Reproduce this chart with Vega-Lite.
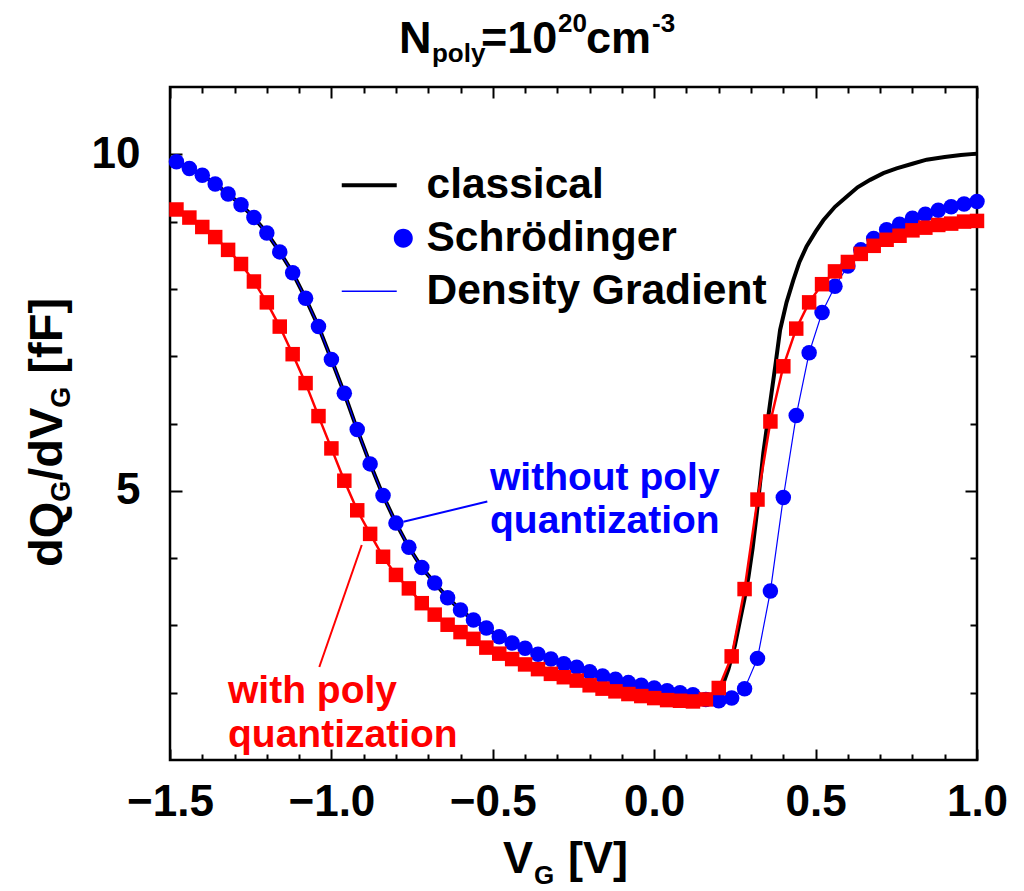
{
  "$schema": "https://vega.github.io/schema/vega-lite/v6.json",
  "width": 807,
  "height": 673,
  "autosize": "none",
  "padding": {"left": 170, "top": 87, "right": 47, "bottom": 131},
  "background": "white",
  "config": {
    "view": {"stroke": "black", "strokeWidth": 2.5},
    "axis": {"domain": false, "grid": false, "tickColor": "black", "tickWidth": 2, "labelFont": "Liberation Sans", "labelFontWeight": "bold", "labelFontSize": 44, "labelColor": "black", "labelFlush": false, "labelOverlap": false},
    "text": {"font": "Liberation Sans", "fontWeight": "bold"}
  },
  "datasets": {
    "curves": [
      {"series": "classical", "x": -1.5, "y": 9.92},
      {"series": "classical", "x": -1.48, "y": 9.89},
      {"series": "classical", "x": -1.44, "y": 9.79},
      {"series": "classical", "x": -1.40, "y": 9.69},
      {"series": "classical", "x": -1.36, "y": 9.56},
      {"series": "classical", "x": -1.32, "y": 9.41},
      {"series": "classical", "x": -1.28, "y": 9.25},
      {"series": "classical", "x": -1.24, "y": 9.06},
      {"series": "classical", "x": -1.20, "y": 8.83},
      {"series": "classical", "x": -1.16, "y": 8.55},
      {"series": "classical", "x": -1.12, "y": 8.24},
      {"series": "classical", "x": -1.08, "y": 7.86},
      {"series": "classical", "x": -1.04, "y": 7.44},
      {"series": "classical", "x": -1.00, "y": 6.95},
      {"series": "classical", "x": -0.96, "y": 6.45},
      {"series": "classical", "x": -0.92, "y": 5.91},
      {"series": "classical", "x": -0.88, "y": 5.40},
      {"series": "classical", "x": -0.84, "y": 4.93},
      {"series": "classical", "x": -0.80, "y": 4.52},
      {"series": "classical", "x": -0.76, "y": 4.16},
      {"series": "classical", "x": -0.72, "y": 3.86},
      {"series": "classical", "x": -0.68, "y": 3.63},
      {"series": "classical", "x": -0.64, "y": 3.41},
      {"series": "classical", "x": -0.60, "y": 3.23},
      {"series": "classical", "x": -0.56, "y": 3.08},
      {"series": "classical", "x": -0.52, "y": 2.96},
      {"series": "classical", "x": -0.48, "y": 2.83},
      {"series": "classical", "x": -0.44, "y": 2.74},
      {"series": "classical", "x": -0.40, "y": 2.66},
      {"series": "classical", "x": -0.36, "y": 2.57},
      {"series": "classical", "x": -0.32, "y": 2.50},
      {"series": "classical", "x": -0.28, "y": 2.43},
      {"series": "classical", "x": -0.24, "y": 2.38},
      {"series": "classical", "x": -0.20, "y": 2.31},
      {"series": "classical", "x": -0.16, "y": 2.25},
      {"series": "classical", "x": -0.12, "y": 2.20},
      {"series": "classical", "x": -0.08, "y": 2.15},
      {"series": "classical", "x": -0.04, "y": 2.11},
      {"series": "classical", "x": 0.00, "y": 2.07},
      {"series": "classical", "x": 0.04, "y": 2.03},
      {"series": "classical", "x": 0.08, "y": 2.00},
      {"series": "classical", "x": 0.12, "y": 1.97},
      {"series": "classical", "x": 0.16, "y": 1.91},
      {"series": "classical", "x": 0.20, "y": 1.98},
      {"series": "classical", "x": 0.215, "y": 2.15},
      {"series": "classical", "x": 0.23, "y": 2.35},
      {"series": "classical", "x": 0.25, "y": 2.70},
      {"series": "classical", "x": 0.266, "y": 3.08},
      {"series": "classical", "x": 0.28, "y": 3.40},
      {"series": "classical", "x": 0.292, "y": 3.72},
      {"series": "classical", "x": 0.305, "y": 4.15},
      {"series": "classical", "x": 0.318, "y": 4.67},
      {"series": "classical", "x": 0.338, "y": 5.56},
      {"series": "classical", "x": 0.359, "y": 6.30},
      {"series": "classical", "x": 0.375, "y": 6.85},
      {"series": "classical", "x": 0.39, "y": 7.39},
      {"series": "classical", "x": 0.41, "y": 7.80},
      {"series": "classical", "x": 0.431, "y": 8.13},
      {"series": "classical", "x": 0.45, "y": 8.40},
      {"series": "classical", "x": 0.472, "y": 8.63},
      {"series": "classical", "x": 0.50, "y": 8.85},
      {"series": "classical", "x": 0.524, "y": 9.02},
      {"series": "classical", "x": 0.56, "y": 9.22},
      {"series": "classical", "x": 0.596, "y": 9.37},
      {"series": "classical", "x": 0.63, "y": 9.51},
      {"series": "classical", "x": 0.669, "y": 9.62},
      {"series": "classical", "x": 0.71, "y": 9.72},
      {"series": "classical", "x": 0.751, "y": 9.79},
      {"series": "classical", "x": 0.80, "y": 9.86},
      {"series": "classical", "x": 0.844, "y": 9.92},
      {"series": "classical", "x": 0.90, "y": 9.96},
      {"series": "classical", "x": 0.95, "y": 9.99},
      {"series": "classical", "x": 1.00, "y": 10.01},

      {"series": "Schrödinger", "x": -1.48, "y": 9.89},
      {"series": "Schrödinger", "x": -1.44, "y": 9.79},
      {"series": "Schrödinger", "x": -1.40, "y": 9.69},
      {"series": "Schrödinger", "x": -1.36, "y": 9.56},
      {"series": "Schrödinger", "x": -1.32, "y": 9.41},
      {"series": "Schrödinger", "x": -1.28, "y": 9.25},
      {"series": "Schrödinger", "x": -1.24, "y": 9.06},
      {"series": "Schrödinger", "x": -1.20, "y": 8.83},
      {"series": "Schrödinger", "x": -1.16, "y": 8.55},
      {"series": "Schrödinger", "x": -1.12, "y": 8.24},
      {"series": "Schrödinger", "x": -1.08, "y": 7.86},
      {"series": "Schrödinger", "x": -1.04, "y": 7.44},
      {"series": "Schrödinger", "x": -1.00, "y": 6.95},
      {"series": "Schrödinger", "x": -0.96, "y": 6.45},
      {"series": "Schrödinger", "x": -0.92, "y": 5.91},
      {"series": "Schrödinger", "x": -0.88, "y": 5.40},
      {"series": "Schrödinger", "x": -0.84, "y": 4.93},
      {"series": "Schrödinger", "x": -0.80, "y": 4.52},
      {"series": "Schrödinger", "x": -0.76, "y": 4.16},
      {"series": "Schrödinger", "x": -0.72, "y": 3.86},
      {"series": "Schrödinger", "x": -0.68, "y": 3.63},
      {"series": "Schrödinger", "x": -0.64, "y": 3.41},
      {"series": "Schrödinger", "x": -0.60, "y": 3.23},
      {"series": "Schrödinger", "x": -0.56, "y": 3.08},
      {"series": "Schrödinger", "x": -0.52, "y": 2.96},
      {"series": "Schrödinger", "x": -0.48, "y": 2.83},
      {"series": "Schrödinger", "x": -0.44, "y": 2.74},
      {"series": "Schrödinger", "x": -0.40, "y": 2.66},
      {"series": "Schrödinger", "x": -0.36, "y": 2.57},
      {"series": "Schrödinger", "x": -0.32, "y": 2.50},
      {"series": "Schrödinger", "x": -0.28, "y": 2.43},
      {"series": "Schrödinger", "x": -0.24, "y": 2.38},
      {"series": "Schrödinger", "x": -0.20, "y": 2.31},
      {"series": "Schrödinger", "x": -0.16, "y": 2.25},
      {"series": "Schrödinger", "x": -0.12, "y": 2.20},
      {"series": "Schrödinger", "x": -0.08, "y": 2.15},
      {"series": "Schrödinger", "x": -0.04, "y": 2.11},
      {"series": "Schrödinger", "x": 0.00, "y": 2.07},
      {"series": "Schrödinger", "x": 0.04, "y": 2.03},
      {"series": "Schrödinger", "x": 0.08, "y": 2.00},
      {"series": "Schrödinger", "x": 0.12, "y": 1.97},
      {"series": "Schrödinger", "x": 0.16, "y": 1.90},
      {"series": "Schrödinger", "x": 0.20, "y": 1.88},
      {"series": "Schrödinger", "x": 0.24, "y": 1.92},
      {"series": "Schrödinger", "x": 0.28, "y": 2.06},
      {"series": "Schrödinger", "x": 0.32, "y": 2.51},
      {"series": "Schrödinger", "x": 0.36, "y": 3.51},
      {"series": "Schrödinger", "x": 0.40, "y": 4.90},
      {"series": "Schrödinger", "x": 0.44, "y": 6.12},
      {"series": "Schrödinger", "x": 0.48, "y": 7.05},
      {"series": "Schrödinger", "x": 0.52, "y": 7.65},
      {"series": "Schrödinger", "x": 0.56, "y": 8.04},
      {"series": "Schrödinger", "x": 0.60, "y": 8.34},
      {"series": "Schrödinger", "x": 0.64, "y": 8.58},
      {"series": "Schrödinger", "x": 0.68, "y": 8.75},
      {"series": "Schrödinger", "x": 0.72, "y": 8.88},
      {"series": "Schrödinger", "x": 0.76, "y": 8.96},
      {"series": "Schrödinger", "x": 0.80, "y": 9.05},
      {"series": "Schrödinger", "x": 0.84, "y": 9.11},
      {"series": "Schrödinger", "x": 0.88, "y": 9.17},
      {"series": "Schrödinger", "x": 0.92, "y": 9.22},
      {"series": "Schrödinger", "x": 0.96, "y": 9.26},
      {"series": "Schrödinger", "x": 1.00, "y": 9.30},

      {"series": "Schrödinger poly", "x": -1.48, "y": 9.18},
      {"series": "Schrödinger poly", "x": -1.44, "y": 9.06},
      {"series": "Schrödinger poly", "x": -1.40, "y": 8.92},
      {"series": "Schrödinger poly", "x": -1.36, "y": 8.77},
      {"series": "Schrödinger poly", "x": -1.32, "y": 8.58},
      {"series": "Schrödinger poly", "x": -1.28, "y": 8.37},
      {"series": "Schrödinger poly", "x": -1.24, "y": 8.11},
      {"series": "Schrödinger poly", "x": -1.20, "y": 7.80},
      {"series": "Schrödinger poly", "x": -1.16, "y": 7.44},
      {"series": "Schrödinger poly", "x": -1.12, "y": 7.03},
      {"series": "Schrödinger poly", "x": -1.08, "y": 6.60},
      {"series": "Schrödinger poly", "x": -1.04, "y": 6.11},
      {"series": "Schrödinger poly", "x": -1.00, "y": 5.63},
      {"series": "Schrödinger poly", "x": -0.96, "y": 5.15},
      {"series": "Schrödinger poly", "x": -0.92, "y": 4.71},
      {"series": "Schrödinger poly", "x": -0.88, "y": 4.36},
      {"series": "Schrödinger poly", "x": -0.84, "y": 4.02},
      {"series": "Schrödinger poly", "x": -0.80, "y": 3.75},
      {"series": "Schrödinger poly", "x": -0.76, "y": 3.55},
      {"series": "Schrödinger poly", "x": -0.72, "y": 3.33},
      {"series": "Schrödinger poly", "x": -0.68, "y": 3.16},
      {"series": "Schrödinger poly", "x": -0.64, "y": 3.01},
      {"series": "Schrödinger poly", "x": -0.60, "y": 2.90},
      {"series": "Schrödinger poly", "x": -0.56, "y": 2.80},
      {"series": "Schrödinger poly", "x": -0.52, "y": 2.67},
      {"series": "Schrödinger poly", "x": -0.48, "y": 2.58},
      {"series": "Schrödinger poly", "x": -0.44, "y": 2.50},
      {"series": "Schrödinger poly", "x": -0.40, "y": 2.42},
      {"series": "Schrödinger poly", "x": -0.36, "y": 2.35},
      {"series": "Schrödinger poly", "x": -0.32, "y": 2.28},
      {"series": "Schrödinger poly", "x": -0.28, "y": 2.23},
      {"series": "Schrödinger poly", "x": -0.24, "y": 2.18},
      {"series": "Schrödinger poly", "x": -0.20, "y": 2.11},
      {"series": "Schrödinger poly", "x": -0.16, "y": 2.06},
      {"series": "Schrödinger poly", "x": -0.12, "y": 2.02},
      {"series": "Schrödinger poly", "x": -0.08, "y": 1.98},
      {"series": "Schrödinger poly", "x": -0.04, "y": 1.95},
      {"series": "Schrödinger poly", "x": 0.00, "y": 1.92},
      {"series": "Schrödinger poly", "x": 0.04, "y": 1.89},
      {"series": "Schrödinger poly", "x": 0.08, "y": 1.88},
      {"series": "Schrödinger poly", "x": 0.12, "y": 1.87},
      {"series": "Schrödinger poly", "x": 0.16, "y": 1.90},
      {"series": "Schrödinger poly", "x": 0.20, "y": 2.07},
      {"series": "Schrödinger poly", "x": 0.24, "y": 2.54},
      {"series": "Schrödinger poly", "x": 0.28, "y": 3.54},
      {"series": "Schrödinger poly", "x": 0.32, "y": 4.87},
      {"series": "Schrödinger poly", "x": 0.36, "y": 6.03},
      {"series": "Schrödinger poly", "x": 0.40, "y": 6.85},
      {"series": "Schrödinger poly", "x": 0.44, "y": 7.41},
      {"series": "Schrödinger poly", "x": 0.48, "y": 7.80},
      {"series": "Schrödinger poly", "x": 0.52, "y": 8.07},
      {"series": "Schrödinger poly", "x": 0.56, "y": 8.26},
      {"series": "Schrödinger poly", "x": 0.60, "y": 8.40},
      {"series": "Schrödinger poly", "x": 0.64, "y": 8.52},
      {"series": "Schrödinger poly", "x": 0.68, "y": 8.64},
      {"series": "Schrödinger poly", "x": 0.72, "y": 8.73},
      {"series": "Schrödinger poly", "x": 0.76, "y": 8.79},
      {"series": "Schrödinger poly", "x": 0.80, "y": 8.87},
      {"series": "Schrödinger poly", "x": 0.84, "y": 8.91},
      {"series": "Schrödinger poly", "x": 0.88, "y": 8.95},
      {"series": "Schrödinger poly", "x": 0.92, "y": 8.97},
      {"series": "Schrödinger poly", "x": 0.96, "y": 9.00},
      {"series": "Schrödinger poly", "x": 1.00, "y": 9.01}
    ],
    "leaders": [
      {"who": "without", "x": -0.777, "y": 4.54, "x2": -0.517, "y2": 4.84},
      {"who": "with", "x": -0.906, "y": 4.195, "x2": -1.0375, "y2": 2.382}
    ],
    "notes": [
      {"who": "without", "x": -0.5087, "y": 5.012, "t": "without poly"},
      {"who": "without", "x": -0.5087, "y": 4.373, "t": "quantization"},
      {"who": "with", "x": -1.3203, "y": 1.842, "t": "with poly"},
      {"who": "with", "x": -1.3203, "y": 1.198, "t": "quantization"}
    ],
    "bigText": [
      {"x": -0.7906, "y": 11.505, "t": "N"},
      {"x": -0.5366, "y": 11.505, "t": "=10"},
      {"x": -0.2113, "y": 11.505, "t": "cm"},
      {"x": -0.4684, "y": -0.679, "t": "V"},
      {"x": -0.267, "y": -0.679, "t": "[V]"}
    ],
    "smallText": [
      {"x": -0.6884, "y": 11.371, "t": "poly"},
      {"x": -0.2980, "y": 11.817, "t": "20"},
      {"x": -0.0068, "y": 11.817, "t": "-3"},
      {"x": -0.3724, "y": -0.843, "t": "G"}
    ],
    "yBig": [
      {"x": -1.8346, "y": 3.868, "t": "dQ"},
      {"x": -1.8346, "y": 5.150, "t": "/dV"},
      {"x": -1.8346, "y": 6.741, "t": "[fF]"}
    ],
    "ySmall": [
      {"x": -1.8098, "y": 4.838, "t": "G"},
      {"x": -1.8098, "y": 6.235, "t": "G"}
    ]
  },
  "resolve": {"axis": {"x": "independent", "y": "independent"}},
  "layer": [
    {
      "data": {"name": "curves"},
      "transform": [{"filter": "datum.series === 'classical'"}],
      "mark": {"type": "line", "strokeWidth": 4},
      "encoding": {
        "x": {"field": "x", "type": "quantitative", "scale": {"domain": [-1.5, 1.0], "nice": false, "zero": false},
              "axis": {"orient": "bottom", "values": [-1.5, -1, -0.5, 0, 0.5, 1], "format": ".1f", "tickSize": -11, "labelPadding": 31, "title": null}},
        "y": {"field": "y", "type": "quantitative", "scale": {"domain": [1, 11], "nice": false, "zero": false},
              "axis": {"orient": "left", "values": [5, 10], "format": "d", "tickSize": -12, "labelPadding": 42, "title": null}},
        "color": {"field": "series", "type": "nominal",
                  "scale": {"domain": ["classical", "Schrödinger", "Density Gradient"], "range": ["#000000", "#0000ff", "#0000ff"]},
                  "legend": {
                    "orient": "none", "legendX": 178, "legendY": 77, "title": null,
                    "values": ["classical", "Schrödinger", "Density Gradient"],
                    "padding": 0, "rowPadding": 10, "labelOffset": 36,
                    "symbolSize": 2209, "symbolStrokeWidth": 1, "symbolType": "stroke",
                    "labelFont": "Liberation Sans", "labelFontWeight": "bold", "labelFontSize": 42.5, "labelColor": "black", "labelLimit": 0,
                    "encode": {"symbols": {"update": {
                      "shape": {"signal": "datum.value === 'Schrödinger' ? 'M1.045,0A0.404,0.404 0 1,0 1.853,0A0.404,0.404 0 1,0 1.045,0Z' : 'M-1.17,0L1.17,0'"},
                      "strokeWidth": {"signal": "datum.value === 'classical' ? 4 : (datum.value === 'Schrödinger' ? 0 : 1.5)"},
                      "fill": {"signal": "datum.value === 'Schrödinger' ? '#0000ff' : 'transparent'"},
                      "stroke": {"signal": "datum.value === 'classical' ? '#000000' : '#0000ff'"},
                      "opacity": {"value": 1}
                    }}}
                  }}
      }
    },
    {
      "data": {"name": "curves"},
      "transform": [{"filter": "datum.series === 'Schrödinger'"}],
      "mark": {"type": "line", "strokeWidth": 1.2, "color": "#0000ff"},
      "encoding": {
        "x": {"field": "x", "type": "quantitative", "scale": {"domain": [-1.5, 1.0], "nice": false, "zero": false}, "axis": null},
        "y": {"field": "y", "type": "quantitative", "scale": {"domain": [1, 11], "nice": false, "zero": false}, "axis": null}
      }
    },
    {
      "data": {"name": "curves"},
      "transform": [{"filter": "datum.series === 'Schrödinger poly'"}],
      "mark": {"type": "line", "strokeWidth": 2.5, "color": "#ff0000"},
      "encoding": {
        "x": {"field": "x", "type": "quantitative", "scale": {"domain": [-1.5, 1.0], "nice": false, "zero": false}, "axis": null},
        "y": {"field": "y", "type": "quantitative", "scale": {"domain": [1, 11], "nice": false, "zero": false}, "axis": null}
      }
    },
    {
      "data": {"name": "curves"},
      "transform": [{"filter": "datum.series === 'Schrödinger'"}],
      "mark": {"type": "point", "filled": true, "shape": "circle", "size": 240, "color": "#0000ff", "opacity": 1},
      "encoding": {
        "x": {"field": "x", "type": "quantitative", "scale": {"domain": [-1.5, 1.0], "nice": false, "zero": false},
              "axis": {"orient": "top", "values": [-1.5, -1, -0.5, 0, 0.5, 1], "tickSize": -11, "labels": false, "title": null}},
        "y": {"field": "y", "type": "quantitative", "scale": {"domain": [1, 11], "nice": false, "zero": false},
              "axis": {"orient": "right", "values": [5, 10], "tickSize": -12, "labels": false, "title": null}}
      }
    },
    {
      "data": {"name": "curves"},
      "transform": [{"filter": "datum.series === 'Schrödinger poly'"}],
      "mark": {"type": "point", "filled": true, "shape": "square", "size": 210, "color": "#ff0000", "opacity": 1},
      "encoding": {
        "x": {"field": "x", "type": "quantitative", "scale": {"domain": [-1.5, 1.0], "nice": false, "zero": false}, "axis": null},
        "y": {"field": "y", "type": "quantitative", "scale": {"domain": [1, 11], "nice": false, "zero": false}, "axis": null}
      }
    },
    {
      "data": {"name": "leaders"},
      "transform": [{"filter": "datum.who === 'without'"}],
      "mark": {"type": "rule", "strokeWidth": 2, "color": "#0000ff"},
      "encoding": {
        "x": {"field": "x", "type": "quantitative", "scale": {"domain": [-1.5, 1.0], "nice": false, "zero": false},
              "axis": {"orient": "bottom", "values": [-1.4, -1.3, -1.2, -1.1, -0.9, -0.8, -0.7, -0.6, -0.4, -0.3, -0.2, -0.1, 0.1, 0.2, 0.3, 0.4, 0.6, 0.7, 0.8, 0.9], "tickSize": -6, "labels": false, "title": null}},
        "y": {"field": "y", "type": "quantitative", "scale": {"domain": [1, 11], "nice": false, "zero": false},
              "axis": {"orient": "left", "values": [2, 3, 4, 6, 7, 8, 9], "tickSize": -7, "labels": false, "title": null}},
        "x2": {"field": "x2"},
        "y2": {"field": "y2"}
      }
    },
    {
      "data": {"name": "leaders"},
      "transform": [{"filter": "datum.who === 'with'"}],
      "mark": {"type": "rule", "strokeWidth": 2, "color": "#ff0000"},
      "encoding": {
        "x": {"field": "x", "type": "quantitative", "scale": {"domain": [-1.5, 1.0], "nice": false, "zero": false},
              "axis": {"orient": "top", "values": [-1.4, -1.3, -1.2, -1.1, -0.9, -0.8, -0.7, -0.6, -0.4, -0.3, -0.2, -0.1, 0.1, 0.2, 0.3, 0.4, 0.6, 0.7, 0.8, 0.9], "tickSize": -6, "labels": false, "title": null}},
        "y": {"field": "y", "type": "quantitative", "scale": {"domain": [1, 11], "nice": false, "zero": false},
              "axis": {"orient": "right", "values": [2, 3, 4, 6, 7, 8, 9], "tickSize": -7, "labels": false, "title": null}},
        "x2": {"field": "x2"},
        "y2": {"field": "y2"}
      }
    },
    {
      "data": {"name": "notes"},
      "transform": [{"filter": "datum.who === 'without'"}],
      "mark": {"type": "text", "align": "left", "baseline": "alphabetic", "fontSize": 39, "color": "#0000ff"},
      "encoding": {
        "x": {"field": "x", "type": "quantitative", "scale": {"domain": [-1.5, 1.0], "nice": false, "zero": false}, "axis": null},
        "y": {"field": "y", "type": "quantitative", "scale": {"domain": [1, 11], "nice": false, "zero": false}, "axis": null},
        "text": {"field": "t"}
      }
    },
    {
      "data": {"name": "notes"},
      "transform": [{"filter": "datum.who === 'with'"}],
      "mark": {"type": "text", "align": "left", "baseline": "alphabetic", "fontSize": 39, "color": "#ff0000"},
      "encoding": {
        "x": {"field": "x", "type": "quantitative", "scale": {"domain": [-1.5, 1.0], "nice": false, "zero": false}, "axis": null},
        "y": {"field": "y", "type": "quantitative", "scale": {"domain": [1, 11], "nice": false, "zero": false}, "axis": null},
        "text": {"field": "t"}
      }
    },
    {
      "data": {"name": "bigText"},
      "mark": {"type": "text", "align": "left", "baseline": "alphabetic", "fontSize": 45, "color": "black"},
      "encoding": {
        "x": {"field": "x", "type": "quantitative", "scale": {"domain": [-1.5, 1.0], "nice": false, "zero": false}, "axis": null},
        "y": {"field": "y", "type": "quantitative", "scale": {"domain": [1, 11], "nice": false, "zero": false}, "axis": null},
        "text": {"field": "t"}
      }
    },
    {
      "data": {"name": "smallText"},
      "mark": {"type": "text", "align": "left", "baseline": "alphabetic", "fontSize": 26, "color": "black"},
      "encoding": {
        "x": {"field": "x", "type": "quantitative", "scale": {"domain": [-1.5, 1.0], "nice": false, "zero": false}, "axis": null},
        "y": {"field": "y", "type": "quantitative", "scale": {"domain": [1, 11], "nice": false, "zero": false}, "axis": null},
        "text": {"field": "t"}
      }
    },
    {
      "data": {"name": "yBig"},
      "mark": {"type": "text", "align": "left", "baseline": "alphabetic", "fontSize": 47, "angle": 270, "color": "black"},
      "encoding": {
        "x": {"field": "x", "type": "quantitative", "scale": {"domain": [-1.5, 1.0], "nice": false, "zero": false}, "axis": null},
        "y": {"field": "y", "type": "quantitative", "scale": {"domain": [1, 11], "nice": false, "zero": false}, "axis": null},
        "text": {"field": "t"}
      }
    },
    {
      "data": {"name": "ySmall"},
      "mark": {"type": "text", "align": "left", "baseline": "alphabetic", "fontSize": 27, "angle": 270, "color": "black"},
      "encoding": {
        "x": {"field": "x", "type": "quantitative", "scale": {"domain": [-1.5, 1.0], "nice": false, "zero": false}, "axis": null},
        "y": {"field": "y", "type": "quantitative", "scale": {"domain": [1, 11], "nice": false, "zero": false}, "axis": null},
        "text": {"field": "t"}
      }
    }
  ]
}
